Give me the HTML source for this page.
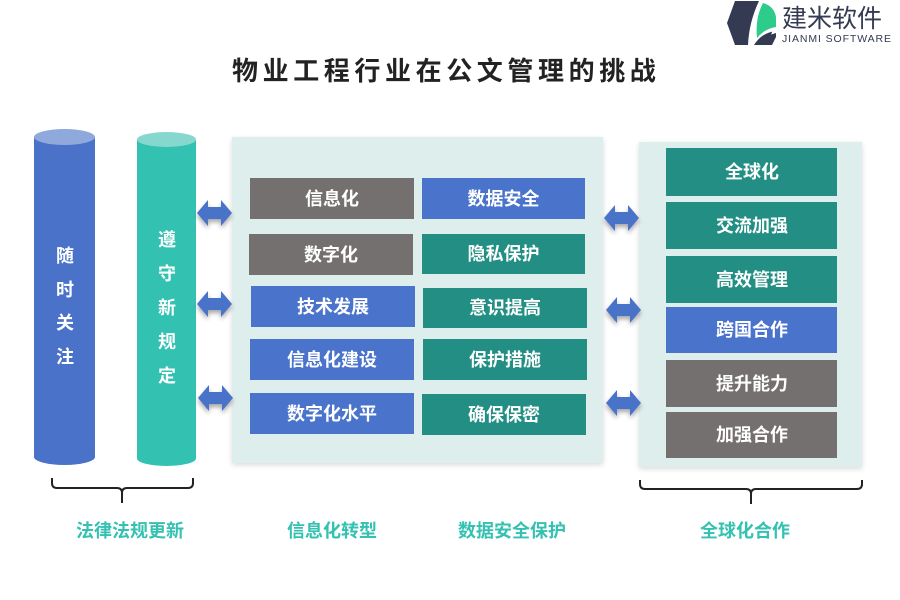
<!DOCTYPE html>
<html><head><meta charset="utf-8"><style>
html,body{margin:0;padding:0;background:#fff;}
svg{display:block;}
text{font-family:"Liberation Sans","Noto Sans CJK SC",sans-serif;font-weight:bold;}
</style></head><body>
<svg width="900" height="600" viewBox="0 0 900 600" xmlns="http://www.w3.org/2000/svg">
<defs>
<filter id="sh" x="-20%" y="-20%" width="140%" height="140%"><feGaussianBlur in="SourceAlpha" stdDeviation="3"/><feOffset dx="0" dy="2"/><feComponentTransfer><feFuncA type="linear" slope="0.15"/></feComponentTransfer><feMerge><feMergeNode/><feMergeNode in="SourceGraphic"/></feMerge></filter>
<filter id="ash" x="-40%" y="-40%" width="180%" height="180%"><feGaussianBlur in="SourceAlpha" stdDeviation="2.5"/><feOffset dx="0" dy="3"/><feComponentTransfer><feFuncA type="linear" slope="0.35"/></feComponentTransfer><feMerge><feMergeNode/><feMergeNode in="SourceGraphic"/></feMerge></filter>
</defs>
<rect width="900" height="600" fill="#fff"/>

<!-- logo -->
<path d="M735,1 L766,1 L776,22 L767,45 L735,45 L727,23 Z" fill="#333a52"/>
<path d="M759,1 L770,1 L777,15 L777,31 Q762,32 754,45 L748,45 Q749,22 759,1 Z" fill="#fff"/>
<path d="M763,3 Q774,6 776,17 L776,27 Q764,29 757,38 Q755,18 763,3 Z" fill="#2ecc8a"/>
<path d="M776,33 L776,37 L772,45 L758,45 Q764,36 776,33 Z" fill="#333a52"/>
<text x="782" y="27" font-size="25" fill="#333a52" style="font-weight:normal">建米软件</text>
<text x="782" y="42" font-size="10.5" fill="#333a52" style="font-weight:normal" letter-spacing="0.9">JIANMI SOFTWARE</text>

<!-- title -->
<text x="232" y="80" font-size="26" fill="#222" letter-spacing="4.6">物业工程行业在公文管理的挑战</text>

<!-- cylinders -->
<rect x="34" y="137" width="61" height="320" fill="#4a72c9"/>
<ellipse cx="64.5" cy="457" rx="30.5" ry="8" fill="#4a72c9"/>
<ellipse cx="64.5" cy="137" rx="30.5" ry="8" fill="#8fa9dd"/>
<g font-size="18" fill="#fff" text-anchor="middle">
<text x="65" y="262">随</text>
<text x="65" y="296">时</text>
<text x="65" y="329">关</text>
<text x="65" y="363">注</text>
</g>
<rect x="137" y="139.5" width="59" height="319" fill="#33c1b1"/>
<ellipse cx="166.5" cy="458.5" rx="29.5" ry="7.5" fill="#33c1b1"/>
<ellipse cx="166.5" cy="139.5" rx="29.5" ry="7.5" fill="#86d8cf"/>
<g font-size="18" fill="#fff" text-anchor="middle">
<text x="167" y="246">遵</text>
<text x="167" y="280">守</text>
<text x="167" y="314">新</text>
<text x="167" y="348">规</text>
<text x="167" y="382">定</text>
</g>

<!-- panels -->
<rect x="232" y="137" width="371" height="326" fill="#deeeec" filter="url(#sh)"/>
<rect x="639" y="142" width="223" height="325" fill="#deeeec" filter="url(#sh)"/>

<!-- center boxes -->
<rect x="250" y="178" width="164" height="41" fill="#747070"/>
<rect x="422" y="178" width="163" height="41" fill="#4a73cc"/>
<rect x="249" y="234" width="164" height="41" fill="#747070"/>
<rect x="422" y="234" width="163" height="40" fill="#238f84"/>
<rect x="251" y="286" width="164" height="41" fill="#4a73cc"/>
<rect x="423" y="288" width="164" height="40" fill="#238f84"/>
<rect x="250" y="339" width="164" height="41" fill="#4a73cc"/>
<rect x="423" y="339" width="164" height="41" fill="#238f84"/>
<rect x="250" y="393" width="164" height="41" fill="#4a73cc"/>
<rect x="422" y="394" width="164" height="41" fill="#238f84"/>
<g font-size="18" fill="#fff" text-anchor="middle">
<text x="332" y="205">信息化</text>
<text x="503.5" y="205">数据安全</text>
<text x="331" y="261">数字化</text>
<text x="503.5" y="260">隐私保护</text>
<text x="333" y="313">技术发展</text>
<text x="505" y="314">意识提高</text>
<text x="332" y="366">信息化建设</text>
<text x="505" y="366">保护措施</text>
<text x="332" y="420">数字化水平</text>
<text x="504" y="421">确保保密</text>
</g>

<!-- right boxes -->
<rect x="666" y="148" width="171" height="48" fill="#238f84"/>
<rect x="666" y="202" width="171" height="47" fill="#238f84"/>
<rect x="666" y="256" width="171" height="47" fill="#238f84"/>
<rect x="666" y="307" width="171" height="46" fill="#4a73cc"/>
<rect x="666" y="360" width="171" height="47" fill="#747070"/>
<rect x="666" y="412" width="171" height="46" fill="#747070"/>
<g font-size="18" fill="#fff" text-anchor="middle">
<text x="752" y="178">全球化</text>
<text x="752" y="232">交流加强</text>
<text x="752" y="286">高效管理</text>
<text x="752" y="336">跨国合作</text>
<text x="752" y="390">提升能力</text>
<text x="752" y="441">加强合作</text>
</g>

<!-- arrows -->
<g fill="#4a72c9" filter="url(#ash)">
<path d="M197,213 L208,200 L208,207 L221,207 L221,200 L232,213 L221,226 L221,219 L208,219 L208,226 Z"/>
<path d="M197,304 L208,291 L208,298 L221,298 L221,291 L232,304 L221,317 L221,310 L208,310 L208,317 Z"/>
<path d="M198,398 L209,385 L209,392 L222,392 L222,385 L233,398 L222,411 L222,404 L209,404 L209,411 Z"/>
<path d="M604,218 L615,205 L615,212 L628,212 L628,205 L639,218 L628,231 L628,224 L615,224 L615,231 Z"/>
<path d="M606,310 L617,297 L617,304 L630,304 L630,297 L641,310 L630,323 L630,316 L617,316 L617,323 Z"/>
<path d="M606,403 L617,390 L617,397 L630,397 L630,390 L641,403 L630,416 L630,409 L617,409 L617,416 Z"/>
</g>

<!-- braces -->
<g fill="none" stroke="#222" stroke-width="2">
<path d="M52,478 L52,483 Q52,488 57,488 L117,488 Q122,488 122,493 L122,503 M122,493 Q122,488 127,488 L188,488 Q193,488 193,483 L193,478"/>
<path d="M640,480 L640,484 Q640,489 645,489 L746,489 Q751,489 751,494 L751,504 M751,494 Q751,489 756,489 L857,489 Q862,489 862,484 L862,480"/>
</g>

<!-- bottom labels -->
<g font-size="18" fill="#33c1b1" text-anchor="middle">
<text x="130" y="537">法律法规更新</text>
<text x="332" y="537">信息化转型</text>
<text x="512" y="537">数据安全保护</text>
<text x="745" y="537">全球化合作</text>
</g>
</svg>
</body></html>
